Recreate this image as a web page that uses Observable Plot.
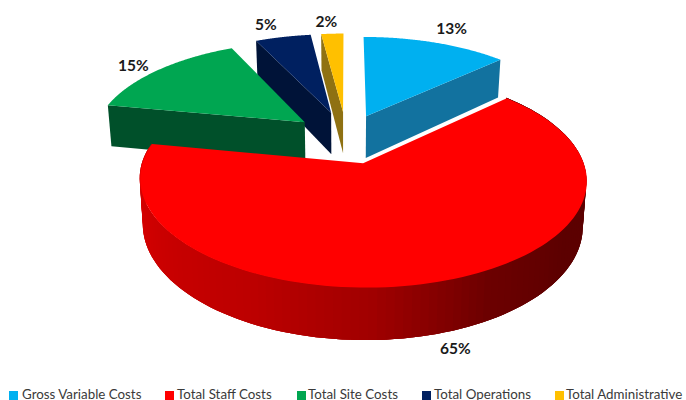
<!DOCTYPE html>
<html>
<head>
<meta charset="utf-8">
<script src="https://cdn.jsdelivr.net/npm/d3@7"></script>
<script src="https://cdn.jsdelivr.net/npm/@observablehq/plot@0.6"></script>
<style>
  html, body { margin: 0; padding: 0; background: #fff; overflow: hidden; }
  #chart { width: 686px; height: 400px; position: relative; overflow: hidden; }
  #chart svg { display: block; }
  .legend { position: absolute; top: 382px; left: 0; width: 686px; height: 18px;
            font: 13.35px Lato, sans-serif; color: #3a3a3a; }
  .legend span { position: absolute; top: 5.5px; white-space: nowrap; line-height: 12.5px; }
  .legend i { position: absolute; top: 9px; width: 9px; height: 9px; }
</style>
</head>
<body>
<div id="chart"></div>
<script>
// Cost breakdown, in percent
const categories = ["Gross Variable Costs", "Total Staff Costs", "Total Site Costs", "Total Operations", "Total Administrative"];
const shares = [13, 65, 15, 5, 2];
const topColors = ["#00b0f0", "#ff0000", "#00a651", "#002060", "#ffc000"];
const wallColors = ["#12729f", "#a00000", "#00502a", "#001338", "#8f7112"];
const rimRamp = ["#d60000", "#c80000", "#bc0000", "#a00000", "#6c0000", "#5c0000"];
const explosion = [0.24, 0.27, 0.255, 0.27, 0.27];
const labelReach = [1.2, 1.0, 1.14, 1.1, 1.1];
const labelNudge = [[4, -1], [17, 67], [-6, 3], [-13, -5], [-5, -5]];
const legendSwatchX = [9, 165, 297, 422, 555];
const legendTextX = [22, 177, 308, 434, 566];

// Perspective of the tilted pie
const W = 686, H = 382;
const view = {cx: 346, cy: 136.5, rx: 212, ry: 97, k: 0.15, depth: 43};

const project = (X, Z, drop = 0) => {
  const s = 1 / (1 - view.k * Z);
  return {
    x: view.cx + view.rx * X * s * (1 - 0.015 * drop),
    y: view.cy + view.ry * Z * s + view.depth * s * drop
  };
};

const arcs = d3.pie().sort(null).startAngle(0).endAngle(2 * Math.PI)(shares);

// Position on slice i at radius r and angle a, pushed out along its bisector
const onSlice = (i, r, a, drop = 0) => {
  const mid = (arcs[i].startAngle + arcs[i].endAngle) / 2;
  const e = explosion[i];
  return project(e * Math.sin(mid) + r * Math.sin(a), -e * Math.cos(mid) - r * Math.cos(a), drop);
};

const rimAngles = (a0, a1, n = 120) => d3.range(0, n + 1).map((j) => a0 + (a1 - a0) * j / n);

const polygons = [];
const addPolygon = (id, fill, pts) => pts.forEach((p) => polygons.push({...p, id, fill}));

// Back slices first, the front slice last
const drawOrder = [4, 3, 2, 0];
for (const i of drawOrder) {
  const {startAngle: a0, endAngle: a1} = arcs[i];
  // The cut face turned towards the viewer
  const cut = i === 0 ? a1 : a0;
  addPolygon(`wall${i}`, wallColors[i], [
    onSlice(i, 0, cut), onSlice(i, 1, cut), onSlice(i, 1, cut, 1), onSlice(i, 0, cut, 1)
  ]);
  addPolygon(`top${i}`, topColors[i], [onSlice(i, 0, a0), ...rimAngles(a0, a1).map((a) => onSlice(i, 1, a))]);
}

// Curved outer wall of the large slice, shaded from left to right.
// Each strip runs under the next one so no seams show between them.
const ramp = d3.piecewise(d3.interpolateRgb, rimRamp);
const rimStrips = [];
const big = arcs[1];
const steps = rimAngles(big.endAngle, big.startAngle);
steps.slice(0, -1).forEach((a, j) => {
  const t = Math.max(0, Math.min(1, (j - 10) / 70));
  const fill = ramp(t);
  for (const v of steps.slice(j, j + 4)) {
    const p = onSlice(1, 1, v), q = onSlice(1, 1, v, 1);
    rimStrips.push({x1: p.x, y1: p.y, x2: q.x, y2: q.y, id: j, fill});
  }
});

const bigTop = [onSlice(1, 0, big.startAngle), ...rimAngles(big.startAngle, big.endAngle).map((a) => onSlice(1, 1, a))]
  .map((p) => ({...p, fill: topColors[1]}));

const labels = shares.map((v, i) => {
  const mid = (arcs[i].startAngle + arcs[i].endAngle) / 2;
  const p = onSlice(i, labelReach[i], mid);
  return {x: p.x + labelNudge[i][0], y: p.y + labelNudge[i][1], text: `${v}%`};
});

const plot = Plot.plot({
  width: W,
  height: H,
  margin: 0,
  x: {domain: [0, W], range: [0, W], axis: null},
  y: {domain: [0, H], range: [0, H], axis: null},
  color: {type: "identity"},
  marks: [
    Plot.line(polygons, {x: "x", y: "y", z: "id", fill: "fill", stroke: "none", curve: "linear-closed"}),
    Plot.area(rimStrips, {x1: "x1", y1: "y1", x2: "x2", y2: "y2", z: "id", fill: "fill"}),
    Plot.line(bigTop, {x: "x", y: "y", fill: "fill", stroke: "none", curve: "linear-closed"}),
    Plot.text(labels, {x: "x", y: "y", text: "text", fontFamily: "Lato, sans-serif", fontWeight: 700, fontSize: 15.5, fill: "#1a1a1a"})
  ]
});

const root = document.getElementById("chart");
root.appendChild(plot);

const legend = document.createElement("div");
legend.className = "legend";
categories.forEach((name, i) => {
  const sw = document.createElement("i");
  sw.style.left = legendSwatchX[i] + "px";
  sw.style.background = topColors[i];
  const tx = document.createElement("span");
  tx.style.left = legendTextX[i] + "px";
  tx.textContent = name;
  legend.append(sw, tx);
});
root.appendChild(legend);
</script>
</body>
</html>
